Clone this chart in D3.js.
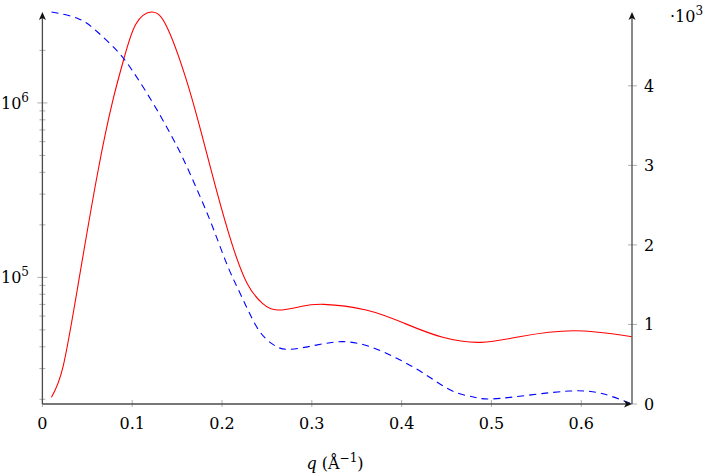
<!DOCTYPE html>
<html>
<head>
<meta charset="utf-8">
<script src="https://cdn.jsdelivr.net/npm/d3@7"></script>
<style>
  body { margin: 0; background: #fff; }
</style>
</head>
<body>
<svg id="chart" width="706" height="475" viewBox="0 0 706 475"></svg>
<script>
// red solid curve (right, linear axis)
const qRed = [0.0101, 0.023, 0.040, 0.0614, 0.0785, 0.0913, 0.104, 0.1212, 0.1382,
  0.1596, 0.1767, 0.1938, 0.2109, 0.228, 0.245, 0.262, 0.2875, 0.3134, 0.3604, 0.4031,
  0.4458, 0.4885, 0.5312, 0.5911, 0.6565]
const redVals = [84, 469, 1516, 2898, 3819, 4363, 4775, 4928, 4750,
  4100, 3420, 2688, 2019, 1516, 1265, 1181, 1225, 1253, 1181, 1014,
  838, 775, 846, 921, 846]

// blue dashed curve (left, log axis)
const qBlue = [0.0101, 0.040, 0.0614, 0.0827, 0.0999, 0.1212, 0.1382, 0.1554, 0.1725, 0.1895,
  0.2066, 0.2237, 0.2408, 0.2579, 0.2749, 0.3049, 0.3348, 0.3647, 0.3945, 0.4244,
  0.4544, 0.48, 0.5013, 0.544, 0.5867, 0.621, 0.6565]
const blueVals = [3.32e6, 3.04e6, 2.55e6, 2.0e6, 1.54e6, 1.036e6, 7.3e5, 4.95e5, 3.16e5, 1.95e5,
  1.15e5, 7.41e4, 4.99e4, 4.09e4, 3.87e4, 4.09e4, 4.28e4, 4.01e4, 3.44e4, 2.82e4,
  2.26e4, 2.06e4, 2.01e4, 2.12e4, 2.23e4, 2.17e4, 1.88e4]

const xTicks = [0, 0.1, 0.2, 0.3, 0.4, 0.5, 0.6]
const rightTicks = [0, 1000, 2000, 3000, 4000]
const leftMajor = [1e5, 1e6]
const leftMinor = [2e4, 3e4, 4e4, 5e4, 6e4, 7e4, 8e4, 9e4,
  2e5, 3e5, 4e5, 5e5, 6e5, 7e5, 8e5, 9e5, 2e6]

const svg = d3.select("#chart")
const plotLeft = 42.4, plotRight = 632, plotTop = 12, plotBottom = 404
const font = "'DejaVu Serif', serif"

const x = d3.scaleLinear().domain([0, 0.6565]).range([plotLeft, plotRight])
const yLog = d3.scaleLog().domain(d3.extent(blueVals)).range([plotBottom, plotTop])
const yLin = d3.scaleLinear().domain([0, d3.max(redVals)]).range([plotBottom, plotTop])

const axisColor = "#4a4a4a", tickColor = "#999"

// ticks
const g = svg.append("g")
g.selectAll(".xt").data(xTicks).enter().append("line")
  .attr("x1", d => x(d)).attr("x2", d => x(d))
  .attr("y1", plotBottom - 4).attr("y2", plotBottom + 3)
  .attr("stroke", tickColor).attr("stroke-width", 0.8)
g.selectAll(".lmaj").data(leftMajor).enter().append("line")
  .attr("x1", plotLeft - 5).attr("x2", plotLeft + 5)
  .attr("y1", d => yLog(d)).attr("y2", d => yLog(d))
  .attr("stroke", tickColor).attr("stroke-width", 0.8)
g.selectAll(".lmin").data(leftMinor).enter().append("line")
  .attr("x1", plotLeft - 3).attr("x2", plotLeft + 3)
  .attr("y1", d => yLog(d)).attr("y2", d => yLog(d))
  .attr("stroke", tickColor).attr("stroke-width", 0.8)
g.selectAll(".rt").data(rightTicks).enter().append("line")
  .attr("x1", plotRight - 4).attr("x2", plotRight + 5)
  .attr("y1", d => yLin(d)).attr("y2", d => yLin(d))
  .attr("stroke", tickColor).attr("stroke-width", 0.8)

// curves
svg.append("clipPath").attr("id", "plotclip")
  .append("rect").attr("x", plotLeft).attr("y", plotTop - 2)
  .attr("width", plotRight - plotLeft).attr("height", plotBottom - plotTop + 2)

svg.append("path")
  .datum(qRed.map((q, i) => [q, redVals[i]]))
  .attr("clip-path", "url(#plotclip)")
  .attr("fill", "none").attr("stroke", "#ff0000").attr("stroke-width", 1.1)
  .attr("d", d3.line().x(d => x(d[0])).y(d => yLin(d[1])).curve(d3.curveNatural))

svg.append("path")
  .datum(qBlue.map((q, i) => [q, blueVals[i]]))
  .attr("clip-path", "url(#plotclip)")
  .attr("fill", "none").attr("stroke", "#0000ff").attr("stroke-width", 1.1)
  .attr("stroke-dasharray", "7,5")
  .attr("d", d3.line().x(d => x(d[0])).y(d => yLog(d[1])).curve(d3.curveNatural))

// axis lines with arrow tips
function arrow(x0, y0, dir) {
  const p = dir === "up"
    ? `M${x0},${y0} L${x0 - 3.5},${y0 + 8} L${x0},${y0 + 6} L${x0 + 3.5},${y0 + 8} Z`
    : `M${x0},${y0} L${x0 - 8},${y0 - 3.5} L${x0 - 6},${y0} L${x0 - 8},${y0 + 3.5} Z`
  svg.append("path").attr("d", p).attr("fill", "#111")
}
svg.append("line").attr("x1", plotLeft).attr("x2", plotLeft).attr("y1", plotBottom).attr("y2", plotTop + 4)
  .attr("stroke", axisColor).attr("stroke-width", 1.3)
svg.append("line").attr("x1", plotRight).attr("x2", plotRight).attr("y1", plotBottom).attr("y2", plotTop + 4)
  .attr("stroke", axisColor).attr("stroke-width", 1.3)
svg.append("line").attr("x1", plotLeft).attr("x2", plotRight - 4).attr("y1", plotBottom).attr("y2", plotBottom)
  .attr("stroke", axisColor).attr("stroke-width", 1.3)
arrow(plotLeft, plotTop, "up")
arrow(plotRight, plotTop, "up")
arrow(plotRight, plotBottom, "right")

// tick labels
const fs = 16, sup = 12
svg.selectAll(".xl").data(xTicks).enter().append("text")
  .attr("x", d => x(d)).attr("y", plotBottom + 25)
  .attr("text-anchor", "middle").attr("font-size", fs).attr("font-family", font)
  .text(d => d === 0 ? "0" : d.toFixed(1))

svg.selectAll(".rl").data(rightTicks).enter().append("text")
  .attr("x", plotRight + 12).attr("y", d => yLin(d) + 6)
  .attr("font-size", fs).attr("font-family", font)
  .text(d => d / 1000)

const ll = svg.selectAll(".ll").data(leftMajor).enter().append("text")
  .attr("x", 29).attr("y", d => yLog(d) + 6)
  .attr("text-anchor", "end").attr("font-size", fs).attr("font-family", font)
ll.append("tspan").text("10")
ll.append("tspan").attr("dy", -7).attr("font-size", sup).text(d => Math.round(Math.log10(d)))

const mult = svg.append("text").attr("x", 670).attr("y", 22)
  .attr("font-size", fs).attr("font-family", font)
mult.append("tspan").text("\u00b710")
mult.append("tspan").attr("dy", -7).attr("font-size", sup).text("3")

// x-axis label
const xl = svg.append("text").attr("x", 335).attr("y", 469)
  .attr("text-anchor", "middle").attr("font-size", fs).attr("font-family", font)
xl.append("tspan").attr("font-style", "italic").text("q")
xl.append("tspan").text(" (\u00c5")
xl.append("tspan").attr("dy", -7).attr("font-size", sup).text("\u22121")
xl.append("tspan").attr("dy", 7).text(")")
</script>
</body>
</html>
